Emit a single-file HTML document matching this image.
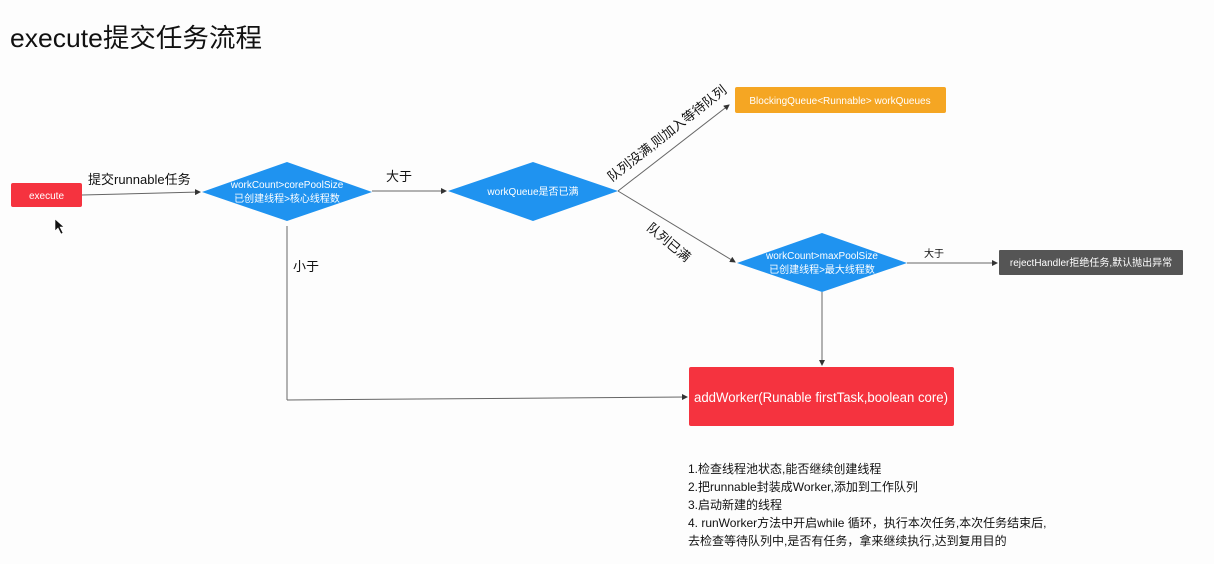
<!DOCTYPE html>
<html><head><meta charset="utf-8"><style>
html,body{margin:0;padding:0;background:#fdfdfd;}
svg{display:block;font-family:"Liberation Sans","Noto Sans CJK SC",sans-serif;}
</style></head><body>
<svg width="1214" height="564" viewBox="0 0 1214 564" xmlns="http://www.w3.org/2000/svg">
<defs><marker id="a" markerWidth="6" markerHeight="6" refX="5" refY="3" orient="auto"><path d="M0,0 L6,3 L0,6z" fill="#333"/></marker></defs>
<rect width="1214" height="564" fill="#fdfdfd"/>
<text x="10" y="47" font-size="26" fill="#111" textLength="252" lengthAdjust="spacingAndGlyphs">execute提交任务流程</text>

<g stroke="#666" stroke-width="1" fill="none">
<line x1="82" y1="195" x2="200" y2="192" marker-end="url(#a)"/>
<line x1="372" y1="191" x2="446" y2="191" marker-end="url(#a)"/>
<line x1="618" y1="191" x2="729" y2="105" marker-end="url(#a)"/>
<line x1="618" y1="191" x2="735" y2="262" marker-end="url(#a)"/>
<line x1="907" y1="263" x2="997" y2="263" marker-end="url(#a)"/>
<line x1="287" y1="226" x2="287" y2="400"/>
<line x1="287" y1="400" x2="687" y2="397" marker-end="url(#a)"/>
<line x1="822" y1="292" x2="822" y2="365" marker-end="url(#a)"/>
</g>

<rect x="11" y="183" width="71" height="24" rx="2" fill="#f5333f"/>
<text x="46.5" y="199" font-size="10" fill="#fff" text-anchor="middle">execute</text>

<polygon points="202,192 287,162 372,192 287,221" fill="#1f93f0"/>
<text x="287" y="188" font-size="10" fill="#fff" text-anchor="middle">workCount&gt;corePoolSize</text>
<text x="287" y="202" font-size="10" fill="#fff" text-anchor="middle">已创建线程&gt;核心线程数</text>

<polygon points="448,191 533,162 618,191 533,221" fill="#1f93f0"/>
<text x="533" y="195" font-size="10" fill="#fff" text-anchor="middle">workQueue是否已满</text>

<rect x="735" y="87" width="211" height="26" rx="2" fill="#f5a623"/>
<text x="840" y="104" font-size="10" fill="#fff" text-anchor="middle">BlockingQueue&lt;Runnable&gt; workQueues</text>

<polygon points="737,263 822,233 907,263 822,292" fill="#1f93f0"/>
<text x="822" y="259" font-size="10" fill="#fff" text-anchor="middle">workCount&gt;maxPoolSize</text>
<text x="822" y="273" font-size="10" fill="#fff" text-anchor="middle">已创建线程&gt;最大线程数</text>

<rect x="999" y="250" width="184" height="25" rx="1" fill="#555"/>
<text x="1091" y="266" font-size="10" fill="#fff" text-anchor="middle">rejectHandler拒绝任务,默认抛出异常</text>

<rect x="689" y="367" width="265" height="59" rx="2" fill="#f5333f"/>
<text x="694" y="402" font-size="13.5" fill="#fff" textLength="254" lengthAdjust="spacingAndGlyphs">addWorker(Runable firstTask,boolean core)</text>

<text x="88" y="184" font-size="13" fill="#111">提交runnable任务</text>
<text x="386" y="181" font-size="13" fill="#111">大于</text>
<text x="293" y="271" font-size="13" fill="#111">小于</text>
<text x="924" y="257" font-size="10" fill="#111">大于</text>
<text transform="translate(612,182) rotate(-38)" font-size="13" fill="#111">队列没满,则加入等待队列</text>
<text transform="translate(646,229) rotate(40)" font-size="13" fill="#111">队列已满</text>

<g font-size="12" fill="#111">
<text x="688" y="473">1.检查线程池状态,能否继续创建线程</text>
<text x="688" y="491">2.把runnable封装成Worker,添加到工作队列</text>
<text x="688" y="509">3.启动新建的线程</text>
<text x="688" y="527">4. runWorker方法中开启while 循环，执行本次任务,本次任务结束后,</text>
<text x="688" y="545">去检查等待队列中,是否有任务，拿来继续执行,达到复用目的</text>
</g>

<path d="M55,219 L55,231 L58,228 L61,234 L63,233 L60,227 L64,227 Z" fill="#111" stroke="#fff" stroke-width="0.6"/>
</svg>
</body></html>
